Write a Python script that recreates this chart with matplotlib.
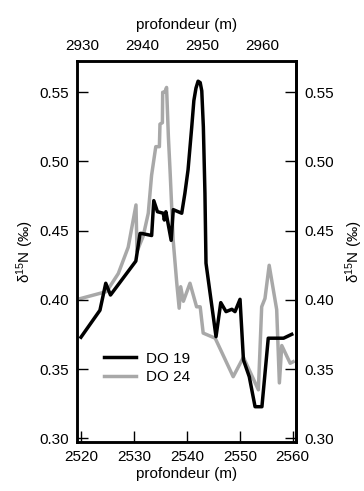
import numpy as np
import matplotlib.pyplot as plt

plt.rcParams['font.family'] = ['Liberation Sans', 'DejaVu Sans']
plt.rcParams['font.size'] = 11

# DO 19 -- bottom depth axis (m)
depth_do19 = [2519.9, 2523.5, 2524.6, 2525.5, 2530.3, 2531.1, 2531.4, 2533.3,
              2533.7, 2534.4, 2535.5, 2535.7, 2536.0, 2537.0, 2537.4, 2539.0,
              2539.6, 2540.2, 2540.9, 2541.3, 2541.7, 2542.1, 2542.5, 2542.8, 2543.1, 2543.4,
              2543.6, 2545.5, 2546.4, 2547.4, 2548.5, 2549.1, 2550.05, 2550.7,
              2551.8, 2552.9, 2554.2, 2555.4, 2558.3, 2559.85]
d15n_do19 = [0.373, 0.3925, 0.412, 0.4035, 0.428, 0.448, 0.448, 0.4465,
             0.4717, 0.4637, 0.4626, 0.4577, 0.4637, 0.443, 0.4652, 0.4626,
             0.477, 0.494, 0.525, 0.544, 0.553, 0.558, 0.557, 0.551, 0.525, 0.477,
             0.4265, 0.3734, 0.398, 0.3915, 0.3932, 0.3915, 0.4004, 0.3566,
             0.3445, 0.3228, 0.3228, 0.3723, 0.3723, 0.3751]

# DO 24 -- top depth axis (m)
depth_do24 = [2929.8, 2934.1, 2936.05, 2937.7, 2939.0, 2939.17, 2940.2, 2941.05,
              2941.6, 2942.3, 2942.9, 2943.0, 2943.4, 2943.45, 2943.8, 2944.1,
              2944.4, 2944.7, 2945.2, 2945.8, 2946.2, 2946.45, 2946.9, 2948.0,
              2949.1, 2949.7, 2950.2, 2952.2, 2955.2, 2956.9, 2959.4, 2959.95,
              2960.5, 2961.2, 2962.45, 2962.9, 2963.3, 2964.7, 2965.2]
d15n_do24 = [0.401, 0.406, 0.419, 0.438, 0.4686, 0.435, 0.446, 0.4626,
             0.49, 0.5107, 0.5107, 0.527, 0.528, 0.550, 0.550, 0.5535,
             0.518, 0.4915, 0.443, 0.412, 0.394, 0.4095, 0.399, 0.412,
             0.395, 0.395, 0.376, 0.3723, 0.3445, 0.3585, 0.335, 0.395,
             0.401, 0.425, 0.393, 0.340, 0.367, 0.3542, 0.3553]

bottom_ticks = [2520, 2530, 2540, 2550, 2560]
top_ticks = [2930, 2940, 2950, 2960]
y_ticks = [0.30, 0.35, 0.40, 0.45, 0.50, 0.55]

fig = plt.figure(figsize=(3.64, 4.91), dpi=100)
ax = fig.add_axes([77 / 364, 49 / 491, 219 / 364, 381 / 491])
ax2 = ax.twiny()

l24, = ax2.plot(depth_do24, d15n_do24, color='#a8a8a8', lw=2.5, label='DO 24')
l19, = ax.plot(depth_do19, d15n_do19, color='black', lw=2.5, label='DO 19')
ax.set_zorder(ax2.get_zorder() + 1)
ax.patch.set_visible(False)

ax.set_xlim(2519.15, 2560.66)
ax.set_ylim(0.2973, 0.5726)
ax2.set_xlim(2929.17, 2965.67)

ax.set_xticks(bottom_ticks)
ax.set_yticks(y_ticks)
ax.set_yticklabels([f'{v:.2f}' for v in y_ticks])
ax2.set_xticks(top_ticks)

ax.tick_params(direction='in', length=8, width=1, pad=6, labelsize=11)
ax.tick_params(axis='y', left=True, right=False)
ax2.tick_params(axis='x', length=0, pad=6, labelsize=11)

sec = ax.secondary_yaxis('right')
sec.set_yticks(y_ticks)
sec.set_yticklabels([f'{v:.2f}' for v in y_ticks])
sec.tick_params(direction='in', length=8, width=1, pad=6, labelsize=11)

ylab = r'$\mathregular{\delta^{15}}$N (‰)'
ax.set_ylabel(ylab, labelpad=2)
sec.set_ylabel(ylab, labelpad=7)
ax.set_xlabel('profondeur (m)', labelpad=2)
ax2.set_xlabel('profondeur (m)', labelpad=7)

for a in (ax, ax2):
    for s in a.spines.values():
        s.set_linewidth(1.8)
sec.spines['right'].set_linewidth(1.8)

ax.legend(handles=[l19, l24], loc='upper left', bbox_to_anchor=(0.123, 0.237),
          frameon=False, handlelength=2.1, handletextpad=0.65,
          labelspacing=0.3, borderpad=0, borderaxespad=0, fontsize=11)

fig.savefig('out.png', dpi=100)
